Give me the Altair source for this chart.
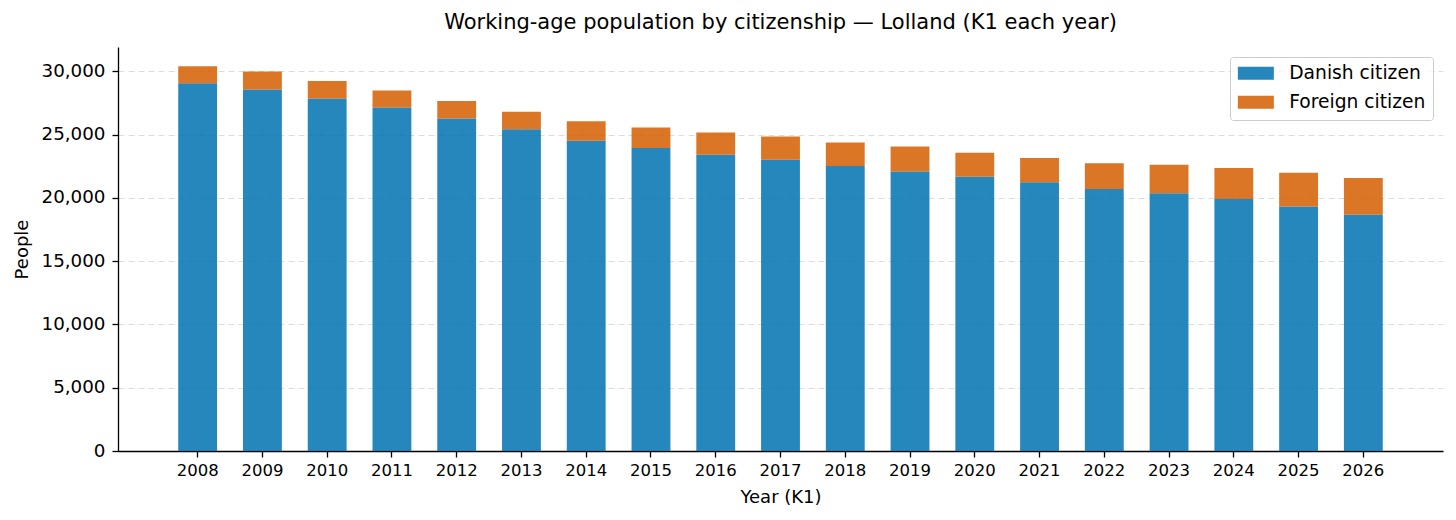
import altair as alt
import pandas as pd

years = [str(y) for y in range(2008, 2027)]
danish = [29050, 28570, 27860, 27140, 26270, 25420, 24520, 23940, 23410, 23020,
          22510, 22090, 21670, 21240, 20710, 20370, 19920, 19310, 18670]
foreign = [1350, 1410, 1370, 1350, 1380, 1380, 1540, 1620, 1750, 1820,
           1860, 1960, 1900, 1910, 2020, 2250, 2430, 2670, 2890]
groups = ["Danish citizen", "Foreign citizen"]
colors = ["#0072B2", "#D55E00"]
y_ticks = [0, 5000, 10000, 15000, 20000, 25000, 30000]

rows = []
for i, yr in enumerate(years):
    rows.append({"year": yr, "group": groups[0], "value": danish[i], "ord": 0})
    rows.append({"year": yr, "group": groups[1], "value": foreign[i], "ord": 1})
df = pd.DataFrame(rows)

FONT = "DejaVu Sans"

chart = alt.Chart(df).mark_bar(opacity=0.85).encode(
    x=alt.X("year:O", title="Year (K1)",
            scale=alt.Scale(paddingInner=0.4, paddingOuter=0.93),
            axis=alt.Axis(labelAngle=0, grid=False, labelPadding=5, titlePadding=10,
                          labelFontSize=16.5)),
    y=alt.Y("value:Q", title="People", stack="zero",
            scale=alt.Scale(domain=[0, 31920], nice=False, zero=True),
            axis=alt.Axis(values=y_ticks, format=",d", grid=True,
                          gridDash=[6, 4], gridColor="#dddddd", gridWidth=1,
                          labelPadding=7, titlePadding=10, labelFontSize=18.3)),
    color=alt.Color("group:N",
                    scale=alt.Scale(domain=groups, range=colors),
                    legend=alt.Legend(title=None, orient="top-right", offset=10,
                                      padding=7, strokeColor="#cccccc",
                                      fillColor="rgba(255,255,255,0.8)",
                                      cornerRadius=3, labelFontSize=18.7,
                                      labelFont=FONT, labelColor="black",
                                      symbolType="M-2.77,-1H2.77V1H-2.77Z",
                                      symbolSize=169, symbolOffset=9.5,
                                      labelOffset=24, rowPadding=9,
                                      symbolStrokeWidth=0, symbolOpacity=0.85)),
    order=alt.Order("ord:Q", sort="ascending"),
).properties(
    width=1325,
    height=404,
    title=alt.TitleParams("Working-age population by citizenship \u2014 Lolland (K1 each year)",
                          fontSize=21, font=FONT, fontWeight="normal",
                          anchor="middle", offset=14, color="black"),
    autosize=alt.AutoSizeParams(type="none"),
    padding={"left": 110, "top": 39, "right": 5, "bottom": 60},
).configure_view(stroke=None).configure_axis(
    domainColor="black", domainWidth=1.3, tickColor="black", tickWidth=1.3,
    tickSize=6, labelFont=FONT, labelColor="black",
    titleFontSize=18, titleFont=FONT, titleFontWeight="normal", titleColor="black",
)

chart.save("out.html", embed_options={"renderer": "svg", "actions": False})
